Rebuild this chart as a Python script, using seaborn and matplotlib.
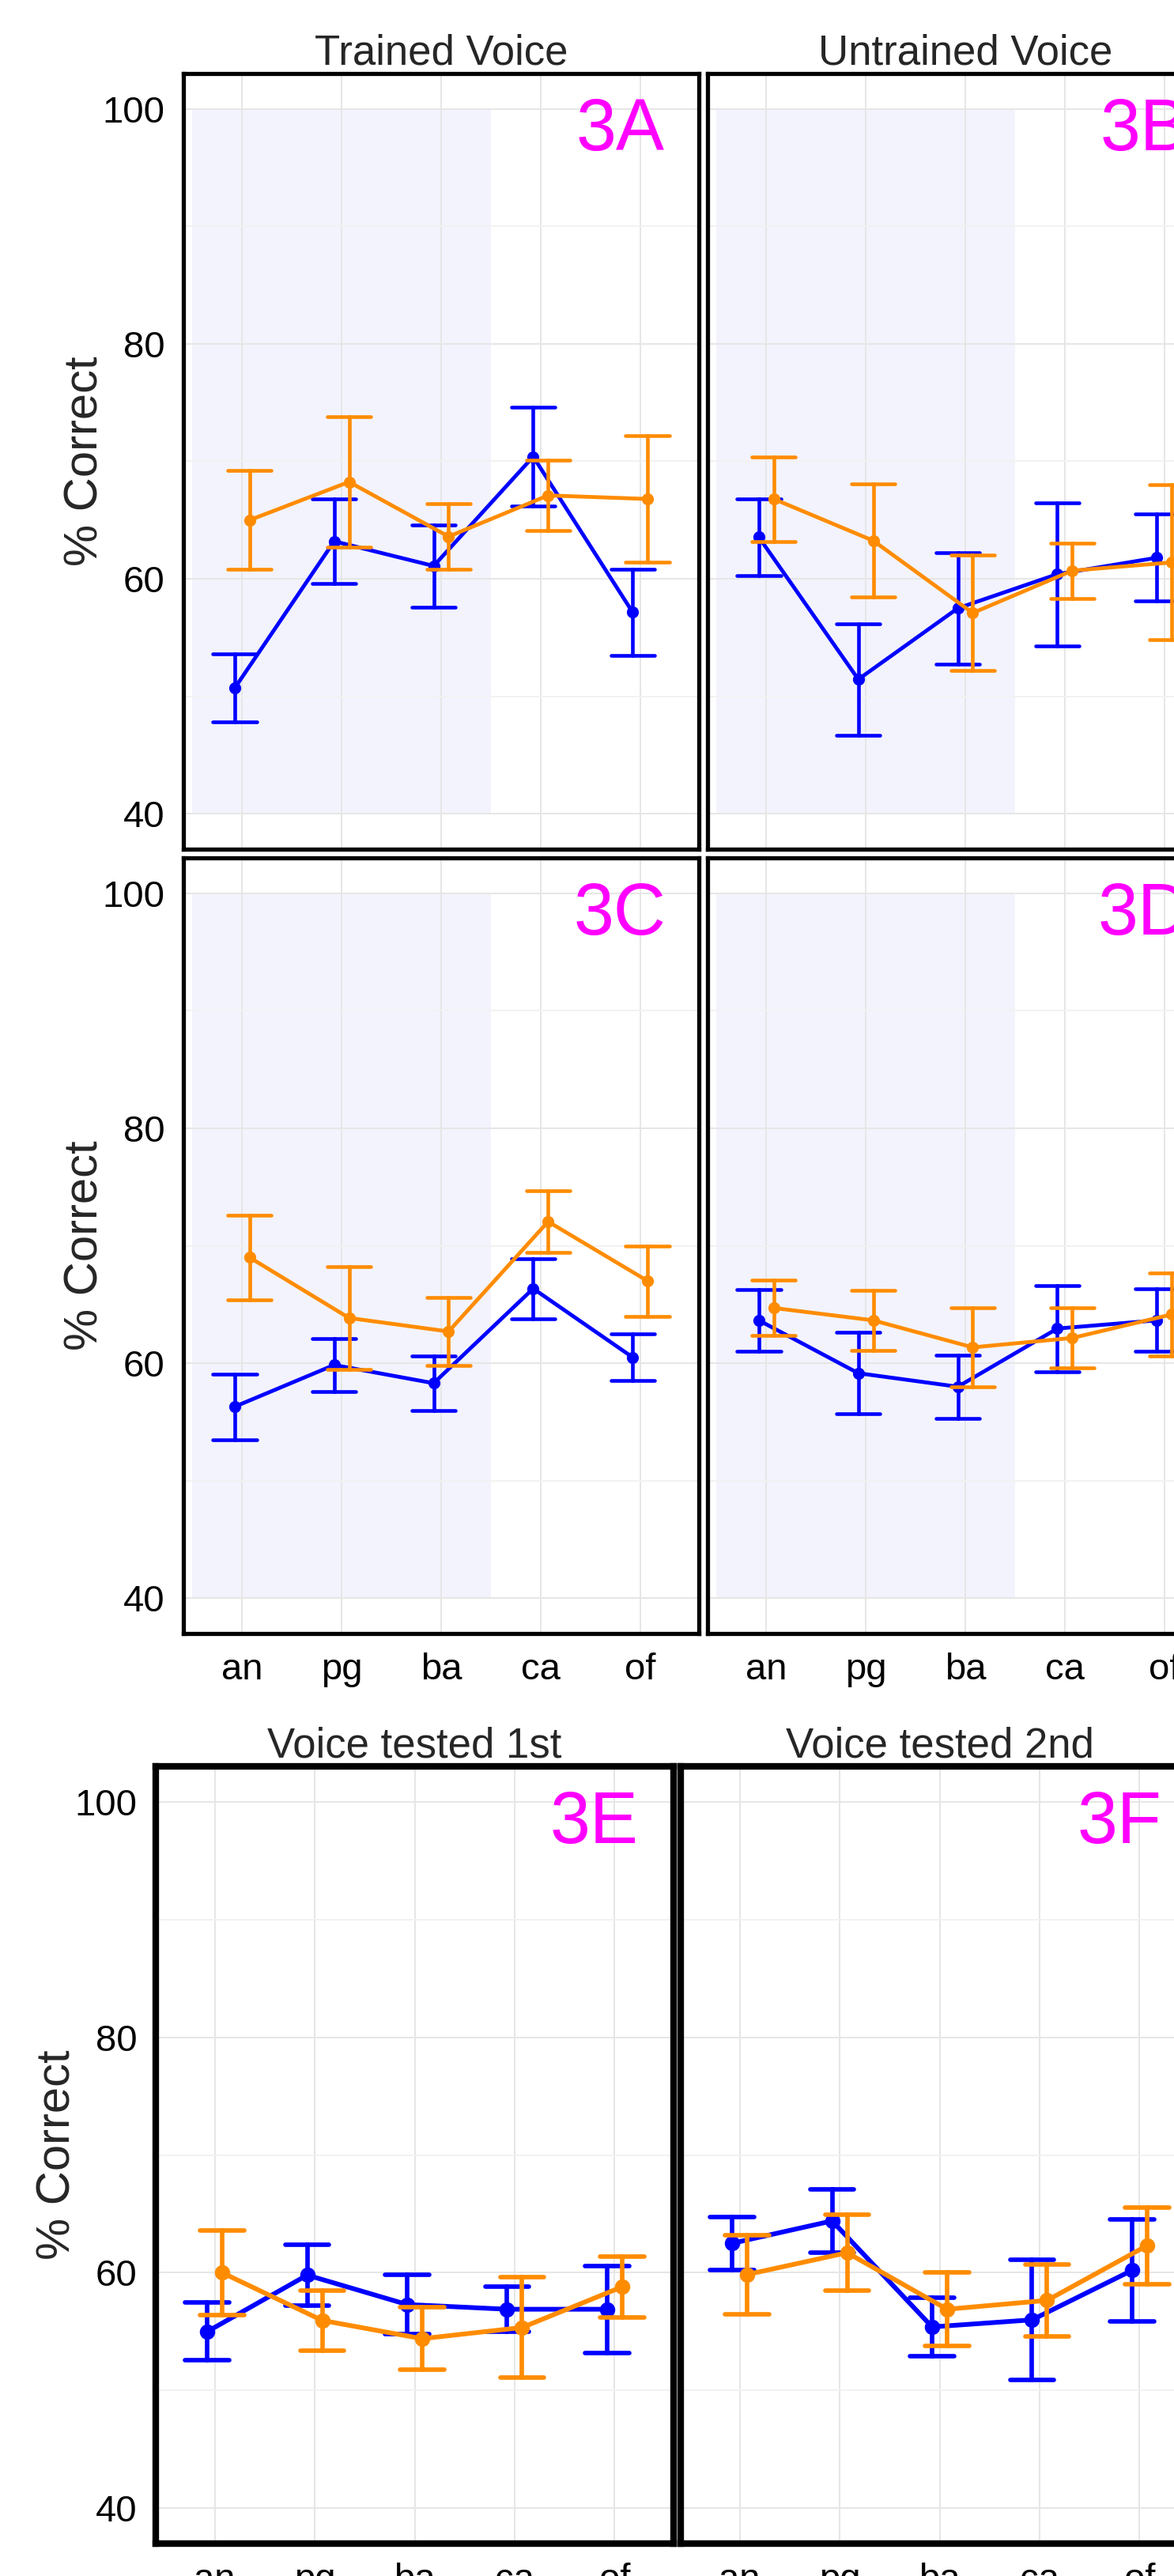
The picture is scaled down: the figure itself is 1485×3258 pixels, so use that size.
import numpy as np
import pandas as pd
import matplotlib.pyplot as plt
import seaborn as sns

sns.set_theme(style="white")
plt.rcParams['font.family'] = ['Liberation Sans', 'DejaVu Sans']

# categories and groups
sounds = ["an", "pg", "ba", "ca", "of"]
groups = ["group 1", "group 2"]
palette = {"group 1": "#0000FF", "group 2": "#FF8C00"}

# 3A - trained voice (mean % correct and SE)
a_g1 = [50.7, 63.2, 61.1, 70.4, 57.15]
a_g1_se = [2.9, 3.6, 3.5, 4.2, 3.65]
a_g2 = [65.0, 68.25, 63.6, 67.1, 66.8]
a_g2_se = [4.2, 5.55, 2.8, 3.0, 5.4]

# 3B - untrained voice
b_g1 = [63.55, 51.45, 57.5, 60.4, 61.8]
b_g1_se = [3.25, 4.75, 4.75, 6.1, 3.7]
b_g2 = [66.8, 63.25, 57.1, 60.7, 61.4]
b_g2_se = [3.6, 4.8, 4.9, 2.35, 6.6]

# 3C - trained voice
c_g1 = [56.3, 59.85, 58.3, 66.35, 60.5]
c_g1_se = [2.8, 2.25, 2.3, 2.55, 2.0]
c_g2 = [69.0, 63.85, 62.7, 72.05, 67.0]
c_g2_se = [3.6, 4.35, 2.9, 2.65, 3.0]

# 3D - untrained voice
d_g1 = [63.65, 59.15, 58.0, 62.95, 63.65]
d_g1_se = [2.6, 3.45, 2.7, 3.65, 2.65]
d_g2 = [64.7, 63.65, 61.35, 62.15, 64.15]
d_g2_se = [2.35, 2.55, 3.35, 2.55, 3.55]

# 3E - voice tested 1st
e_g1 = [55.0, 59.8, 57.3, 56.9, 56.9]
e_g1_se = [2.45, 2.6, 2.5, 1.9, 3.7]
e_g2 = [60.0, 55.95, 54.4, 55.35, 58.8]
e_g2_se = [3.6, 2.55, 2.65, 4.25, 2.6]

# 3F - voice tested 2nd
f_g1 = [62.5, 64.4, 55.4, 56.0, 60.2]
f_g1_se = [2.25, 2.7, 2.5, 5.1, 4.3]
f_g2 = [59.85, 61.7, 56.9, 57.65, 62.3]
f_g2_se = [3.35, 3.2, 3.1, 3.05, 3.25]

# trained sounds get a shaded band
shade_x = [-0.5, 2.5]
shade_y = [40, 100]


def make_df(g1, g1_se, g2, g2_se):
    """Long table with mean-se, mean, mean+se per point so pointplot can draw the bars."""
    rows = []
    for grp, means, ses in [("group 1", g1, g1_se), ("group 2", g2, g2_se)]:
        for snd, m, s in zip(sounds, means, ses):
            for v in (m - s, m, m + s):
                rows.append({"sound": snd, "group": grp, "pct": v})
    return pd.DataFrame(rows)


W, H = 1485, 3258
fig = plt.figure(figsize=(W / 100, H / 100), dpi=100)


def add_ax(l, t, r, b):
    return fig.add_axes([l / W, 1 - b / H, (r - l) / W, (b - t) / H])


def draw_panel(ax, df, letter, shade, lw, ms, spine_w, xlabels, ylabels, title=None):
    if shade:
        ax.fill_between(shade_x, shade_y[0], shade_y[1], color="#F3F3FD", lw=0, zorder=0.1)
    sns.pointplot(data=df, x="sound", y="pct", hue="group", order=sounds, hue_order=groups,
                  palette=palette, estimator="median", errorbar=lambda v: (v.min(), v.max()),
                  dodge=0.15, capsize=0.44, linewidth=lw, markersize=ms, markeredgewidth=lw * 0.7,
                  err_kws={"linewidth": lw * 0.95}, legend=False, ax=ax)
    # make sure the line / marker sizes stick
    for ln in ax.lines:
        if ln.get_marker() not in (None, "None", "", " "):
            ln.set_linewidth(lw)
            ln.set_markersize(ms)
            ln.set_markeredgewidth(lw * 0.7)
        else:
            ln.set_linewidth(lw * 0.95)
    ax.set_xlim(-0.59, 4.59)
    ax.set_ylim(37, 103)
    ax.set_yticks([40, 60, 80, 100])
    ax.set_yticks([50, 70, 90], minor=True)
    ax.set_axisbelow(True)
    ax.grid(which="major", color="#E6E6E6", lw=1.4)
    ax.grid(which="minor", axis="y", color="#F2F2F2", lw=1.4)
    ax.set_xlabel("")
    ax.set_ylabel("")
    for sp in ax.spines.values():
        sp.set_visible(True)
        sp.set_color("black")
        sp.set_linewidth(spine_w)
    ax.tick_params(which="minor", length=0)
    ax.tick_params(axis="both", which="major", labelsize=34, colors="black",
                   length=10, width=2.4, pad=7, direction="out")
    if not xlabels:
        ax.tick_params(axis="x", length=0, labelbottom=False)
    if not ylabels:
        ax.tick_params(axis="y", length=0, labelleft=False)
    else:
        ax.text(-0.19, 0.5, "% Correct", transform=ax.transAxes, rotation=90,
                ha="center", va="center", fontsize=43)
    ax.text(0.847, 0.926, letter, transform=ax.transAxes, ha="center", va="center",
            fontsize=66, color="#FF00FF")
    if title:
        ax.set_title(title, fontsize=38, pad=8)


ax_a = add_ax(232, 93, 884, 1074)
ax_b = add_ax(895, 93, 1547, 1074)
ax_c = add_ax(232, 1085, 884, 2066)
ax_d = add_ax(895, 1085, 1547, 2066)
ax_e = add_ax(197, 2234, 852, 3217)
ax_f = add_ax(861, 2234, 1516, 3217)

draw_panel(ax_a, make_df(a_g1, a_g1_se, a_g2, a_g2_se), "3A", True, 3.5, 8.5, 3.8, False, True, "Trained Voice")
draw_panel(ax_b, make_df(b_g1, b_g1_se, b_g2, b_g2_se), "3B", True, 3.5, 8.5, 3.8, False, False, "Untrained Voice")
draw_panel(ax_c, make_df(c_g1, c_g1_se, c_g2, c_g2_se), "3C", True, 3.5, 8.5, 3.8, True, True)
draw_panel(ax_d, make_df(d_g1, d_g1_se, d_g2, d_g2_se), "3D", True, 3.5, 8.5, 3.8, True, False)
draw_panel(ax_e, make_df(e_g1, e_g1_se, e_g2, e_g2_se), "3E", False, 4.3, 11, 6.0, True, True, "Voice tested 1st")
draw_panel(ax_f, make_df(f_g1, f_g1_se, f_g2, f_g2_se), "3F", False, 4.3, 11, 6.0, True, False, "Voice tested 2nd")

fig.savefig("out.png", dpi=100)
